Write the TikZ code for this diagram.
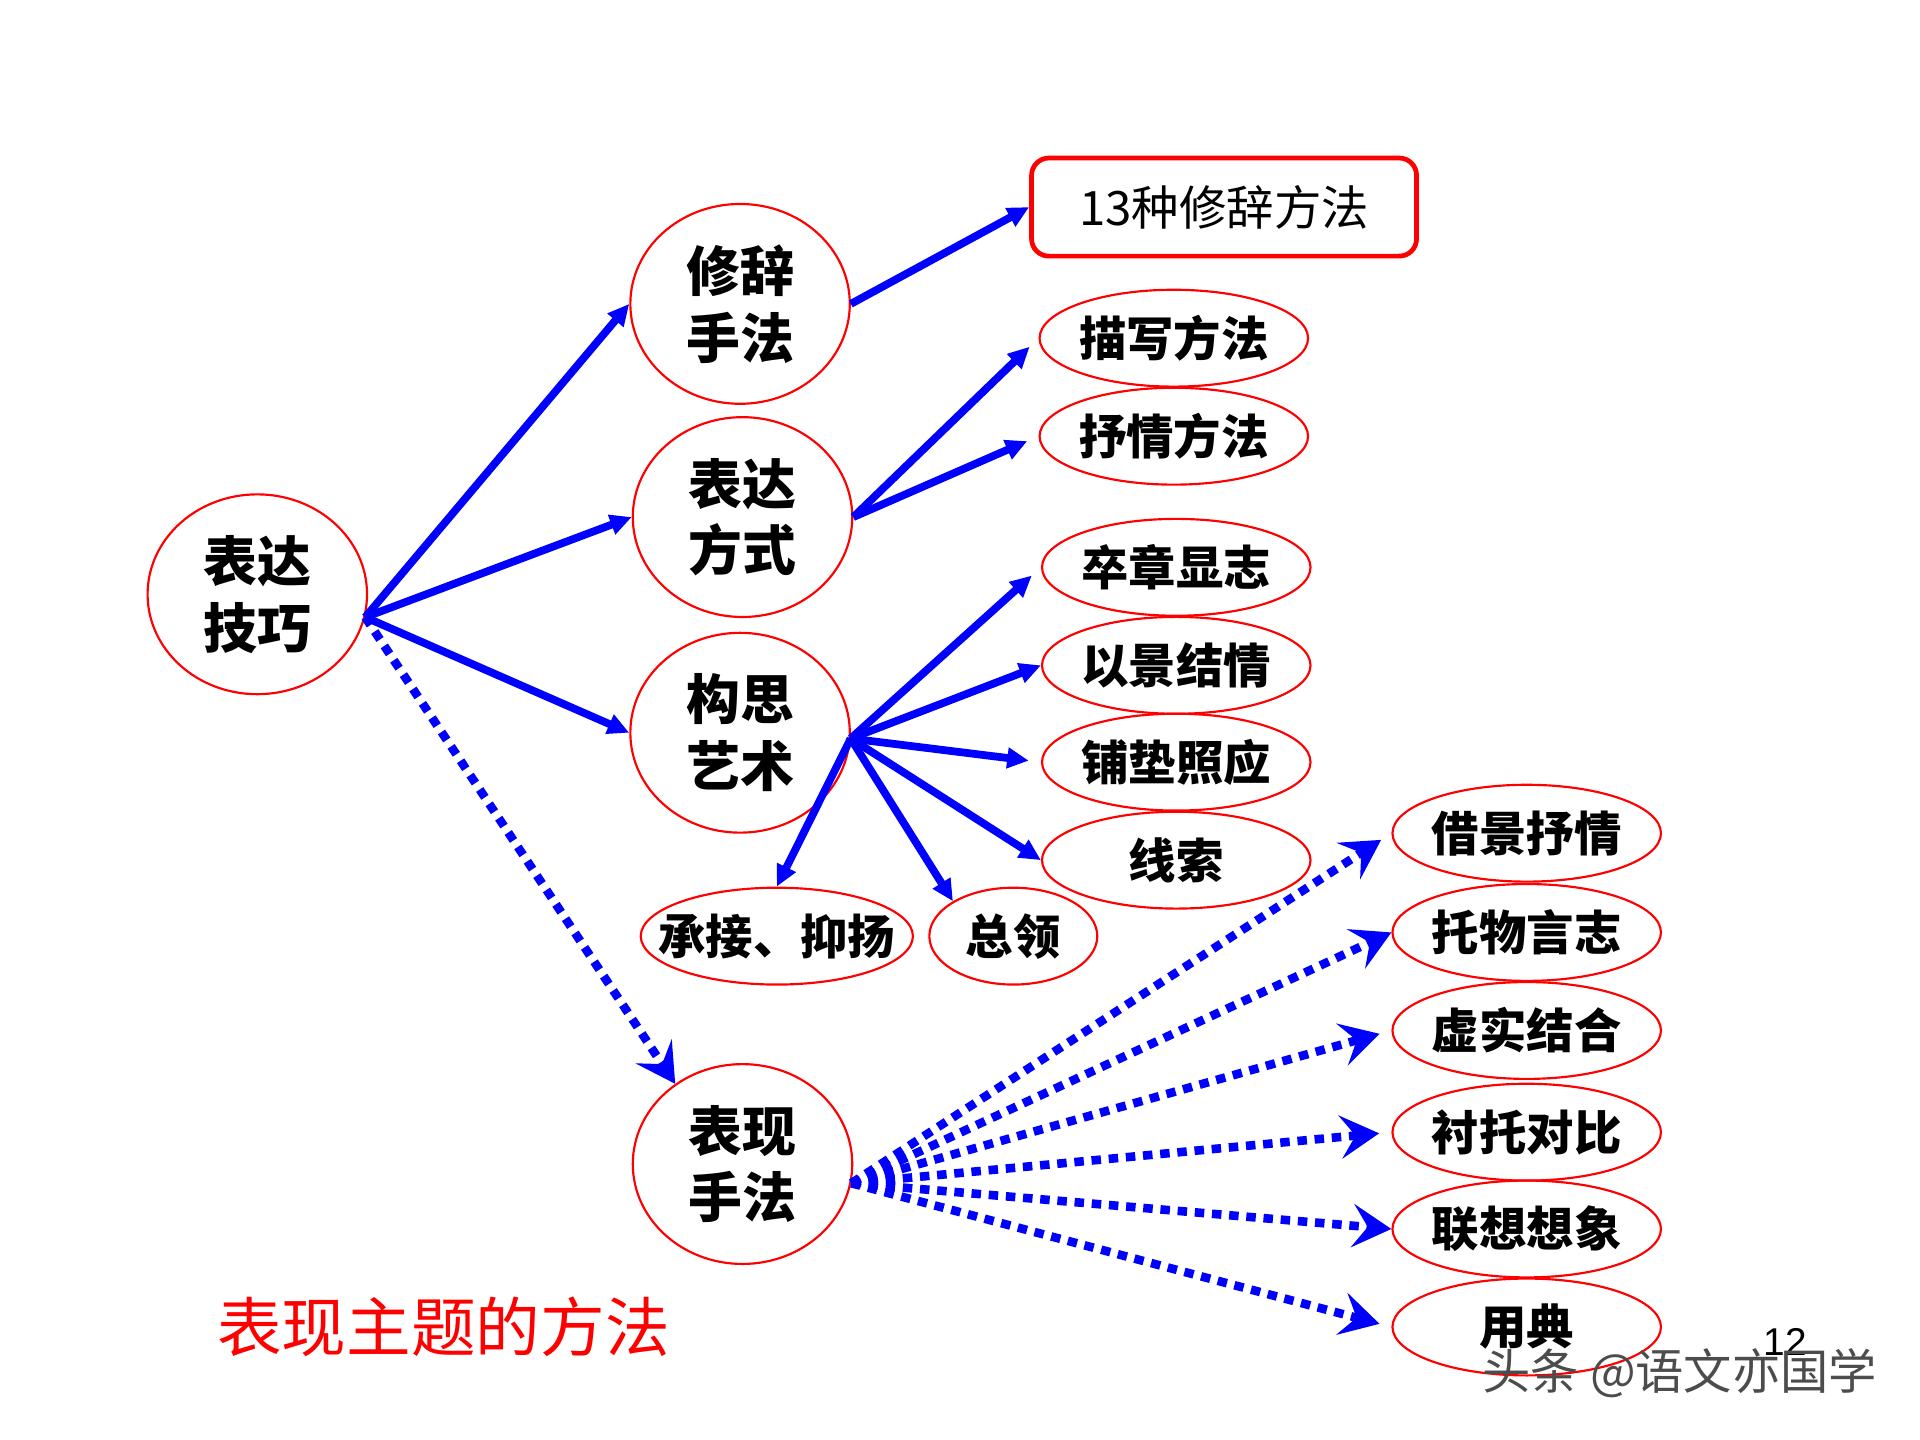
\documentclass[tikz,border=0pt]{standalone}
\usepackage{fontspec}
\setmainfont{Liberation Sans}
\newfontfamily\cjk{Noto Sans CJK SC}
\usetikzlibrary{shapes.geometric,arrows.meta}

\begin{document}
\begin{tikzpicture}[x=0.01cm, y=-0.01cm,
  big/.style={ellipse, draw=red, line width=0.5pt, minimum width=1.79cm, minimum height=1.63cm, inner sep=-3mm, align=center, font=\cjk\bfseries\fontsize{12.5}{15.5}\selectfont},
  leaf/.style={ellipse, draw=red, line width=0.5pt, minimum width=2.19cm, minimum height=0.79cm, inner xsep=-1cm, inner ysep=-2mm, font=\cjk\bfseries\fontsize{11}{13}\selectfont},
  link/.style={draw=blue, line width=1.8pt, -{Triangle[length=5pt,width=4.6pt]}},
  hint/.style={draw=blue, line width=2pt, dash pattern=on 2.2pt off 1.8pt, -{Stealth[length=9pt,width=10pt,inset=3.5pt]}}]
  \fill[white] (0,0) rectangle (1567,1175);
  \useasboundingbox (0,0) rectangle (1567,1175);
  \node[big] (root) at (210,485) {表达\\技巧};
  \node[big] (rhet) at (604,248) {修辞\\手法};
  \node[big] (expr) at (606,422) {表达\\方式};
  \node[big] (plan) at (604,598) {构思\\艺术};
  \node[big] (show) at (606,950) {表现\\手法};
  \node[draw=red, line width=1.1pt, rounded corners=4pt, minimum width=3.14cm, minimum height=0.8cm, font=\cjk\fontsize{11}{13}\selectfont] (count) at (999,169) {13种修辞方法};
  \node[leaf] (desc) at (958,276) {描写方法};
  \node[leaf] (lyric) at (958,356) {抒情方法};
  \node[leaf] (ending) at (960,463) {卒章显志};
  \node[leaf] (scene) at (960,543) {以景结情};
  \node[leaf] (echo) at (960,622) {铺垫照应};
  \node[leaf] (thread) at (960,702) {线索};
  \node[leaf, minimum width=2.22cm] (turn) at (634,764) {承接、抑扬};
  \node[leaf, minimum width=1.37cm] (lead) at (827,764) {总领};
  \node[leaf] (borrow) at (1246,680) {借景抒情};
  \node[leaf] (object) at (1246,761) {托物言志};
  \node[leaf] (real) at (1246,841) {虚实结合};
  \node[leaf] (foil) at (1246,924) {衬托对比};
  \node[leaf] (fancy) at (1246,1003) {联想想象};
  \node[leaf] (allude) at (1246,1083) {用典};
  \node[text=red, font=\cjk\fontsize{15}{18}\selectfont] (title) at (362,1083) {表现主题的方法};
  \node[font=\fontsize{9}{10}\selectfont] (page) at (1457,1095) {12};
  \node[text=black!70, font=\cjk\fontsize{11.2}{12}\selectfont] (mark) at (1371,1121) {头条 @语文亦国学};
  \draw[link] (root.-12) -- (rhet.west);
  \draw[link] (root.-12) -- (expr.west);
  \draw[link] (root.-12) -- (plan.west);
  \draw[hint] (root.-12) -- (show.130);
  \draw[link] (rhet.east) -- (count.west);
  \draw[link, shorten >=1mm] (expr.east) -- (desc.west);
  \draw[link, shorten >=1mm] (expr.east) -- (lyric.west);
  \draw[link, shorten >=1mm] (plan.-3) -- (ending.west);
  \draw[link] (plan.-3) -- (scene.west);
  \draw[link, shorten >=1mm] (plan.-3) -- (echo.west);
  \draw[link] (plan.-3) -- (thread.west);
  \draw[link] (plan.-3) -- (turn.north);
  \draw[link] (plan.-3) -- (lead.150);
  \draw[hint, shorten >=1mm] (show.-10) -- (borrow.west);
  \draw[hint] (show.-10) -- (object.west);
  \draw[hint, shorten >=1mm] (show.-10) -- (real.west);
  \draw[hint, shorten >=1mm] (show.-10) -- (foil.west);
  \draw[hint] (show.-10) -- (fancy.west);
  \draw[hint, shorten >=1mm] (show.-10) -- (allude.west);
\end{tikzpicture}
\end{document}
